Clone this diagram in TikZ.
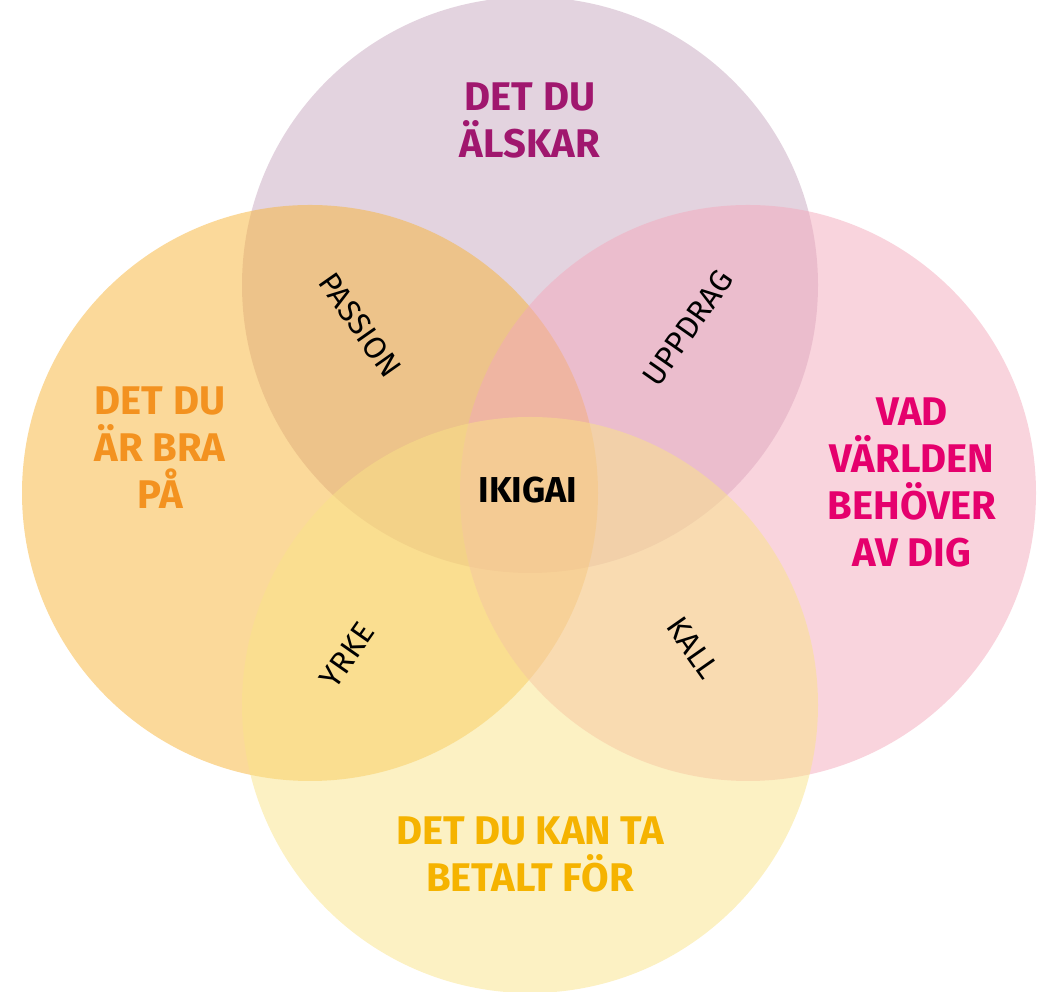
\documentclass[tikz,border=0pt]{standalone}
\usepackage{fontspec}
\setmainfont{Fira Sans}
\begin{document}
\begin{tikzpicture}[x=1pt,y=1pt,
 big/.style={font=\fontsize{40}{47}\selectfont\bfseries,align=center},
 inner/.style={font=\fontsize{31}{34}\selectfont\mdseries}]
\useasboundingbox (0,0) rectangle (1058,992);
\definecolor{cT}{RGB}{199,167,191}
\definecolor{cL}{RGB}{247,179,53}
\definecolor{cR}{RGB}{243,169,187}
\definecolor{cB}{RGB}{249,227,135}
\begin{scope}[fill opacity=0.5]
\fill[cT] (530,707) circle (288);
\fill[cL] (310,499) circle (288);
\fill[cR] (748,499) circle (288);
\fill[cB] (530,287) circle (288);
\end{scope}
\node[big,text={rgb,255:red,160;green,23;blue,110}] (t) at (530,872) {DET DU\\ÄLSKAR};
\node[big,text={rgb,255:red,243;green,146;blue,32}] (l) at (160,544) {DET DU\\ÄR BRA\\PÅ};
\node[big,text={rgb,255:red,229;green,0;blue,109}] (r) at (912,510) {VAD\\VÄRLDEN\\BEHÖVER\\AV DIG};
\node[big,text={rgb,255:red,245;green,179;blue,0}] (b) at (530,138) {DET DU KAN TA\\BETALT FÖR};
\node[font=\fontsize{36}{38}\selectfont\bfseries] (i) at (528,502) {IKIGAI};
\node[inner,rotate=-55] (p) at (360,667) {PASSION};
\node[inner,rotate=55] (u) at (688,664) {UPPDRAG};
\node[inner,rotate=55] (y) at (347,337) {YRKE};
\node[inner,rotate=-55] (k) at (693,344) {KALL};
\end{tikzpicture}
\end{document}
